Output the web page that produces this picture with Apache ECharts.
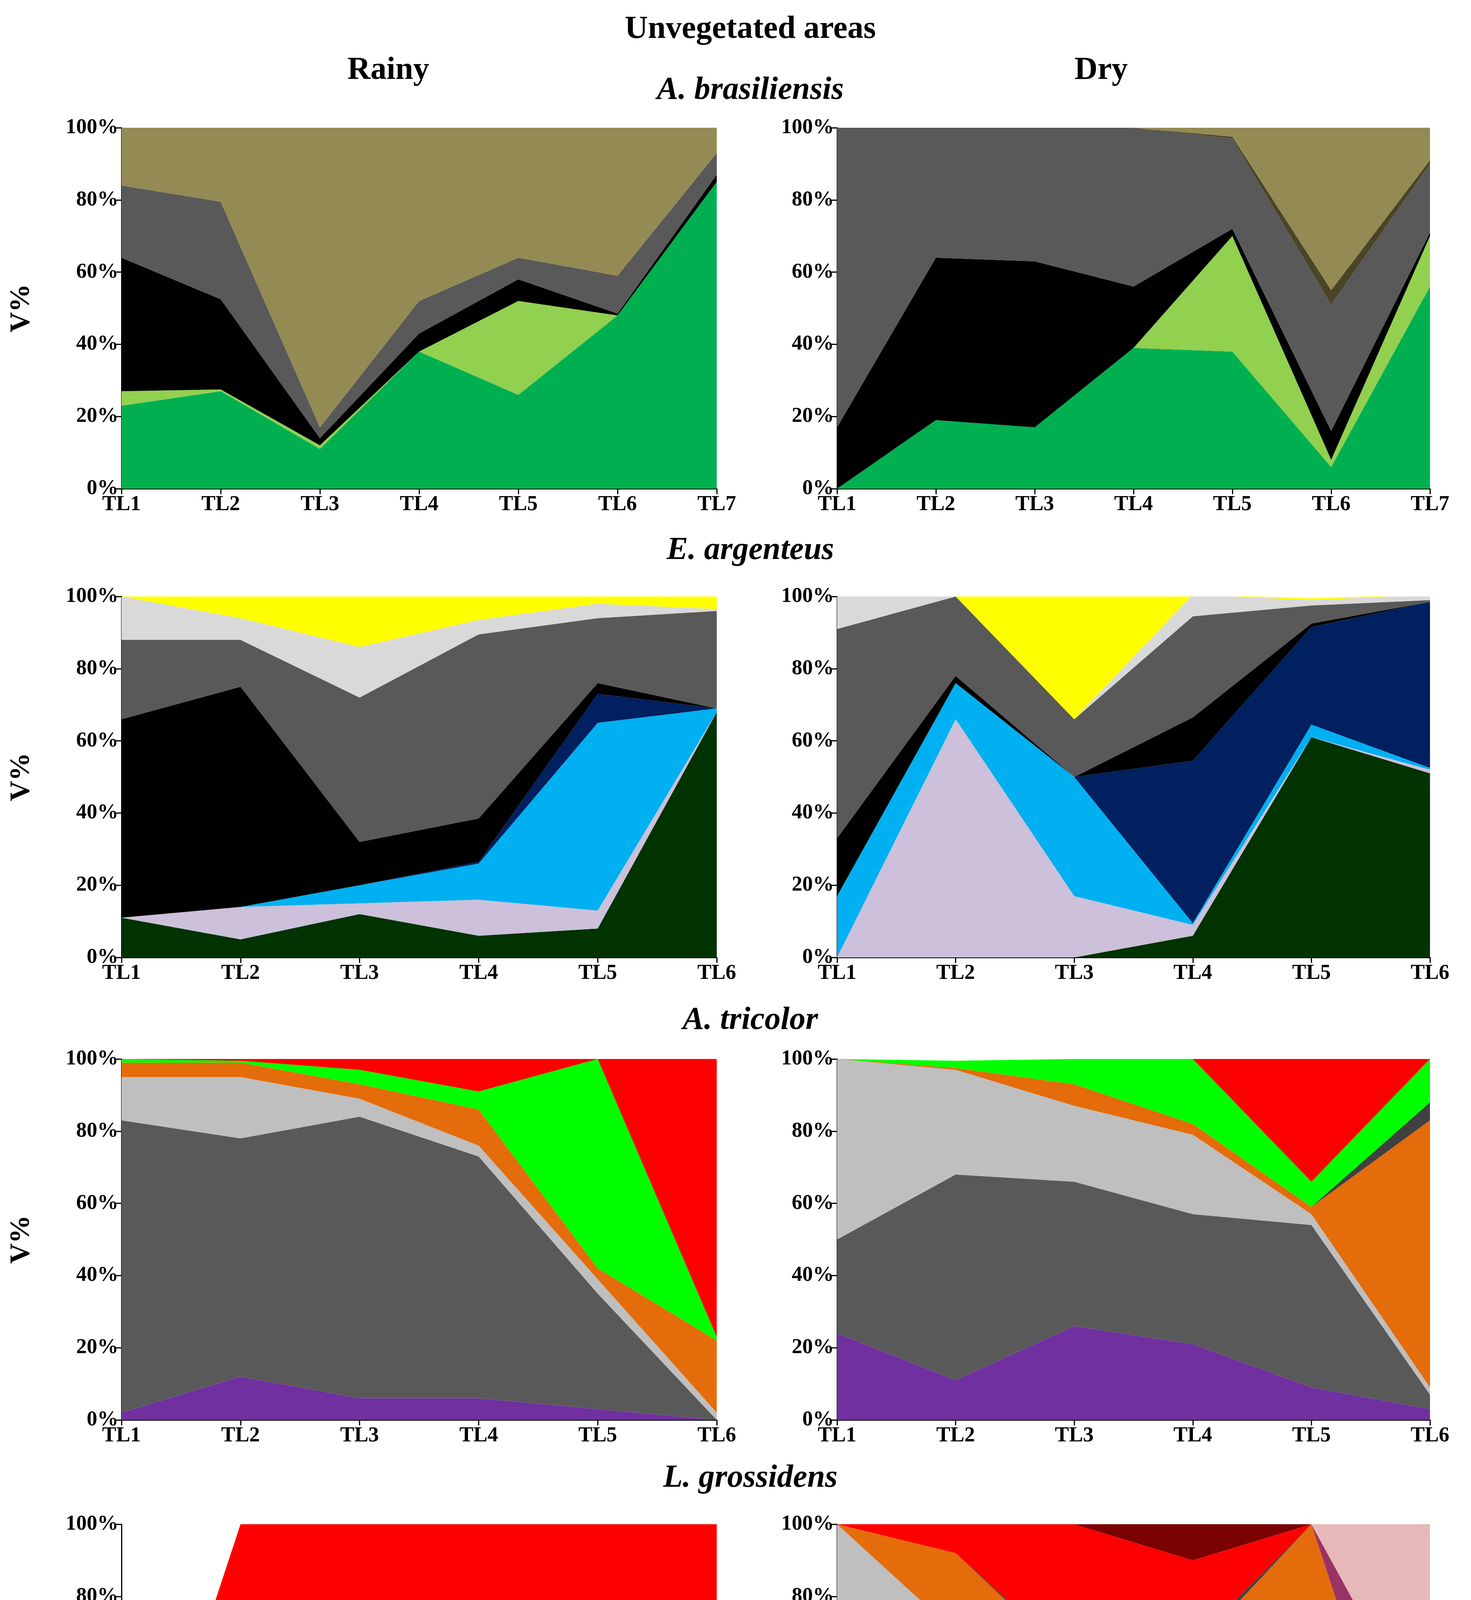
<!DOCTYPE html>
<html>
<head>
<meta charset="utf-8">
<script src="https://cdn.jsdelivr.net/npm/echarts@6/dist/echarts.min.js"></script>
<style>html,body{margin:0;padding:0;background:#fff}#c{width:3766px;height:4950px}</style>
</head>
<body>
<div id="c"></div>
<script>
// layer thickness (%) per tick, bottom to top
const tl7 = ['TL1','TL2','TL3','TL4','TL5','TL6','TL7']
const tl6 = ['TL1','TL2','TL3','TL4','TL5','TL6']
const yTicks = [0, 20, 40, 60, 80, 100]

const C = {
  green: '#00B050', lgreen: '#92D050', black: '#000000', dgray: '#595959', khaki: '#948A54',
  olive: '#4A4526', lgray: '#D9D9D9', sgray: '#BFBFBF', yellow: '#FFFF00', navy: '#002060',
  blue: '#00B0F0', lav: '#CCC0DA', dkgreen: '#003300', red: '#FF0000', bgreen: '#00FF00',
  orange: '#E46C0A', purple: '#7030A0', maroon: '#7B0000', pink: '#E6B9B8', plum: '#993366', ddgray: '#404040'
}

// A. brasiliensis rainy
const abR = [
  ['green', [23, 27, 11, 38, 26, 48, 85]],
  ['lgreen', [4, 0.5, 1, 0, 26, 0, 0]],
  ['black', [37, 25, 2, 5, 6, 0.5, 2]],
  ['dgray', [20, 27, 3, 9, 6, 10.5, 6]],
  ['khaki', [16, 20.5, 83, 48, 36, 41, 7]]
]
// A. brasiliensis dry
const abD = [
  ['green', [0, 19, 17, 39, 38, 6, 56]],
  ['lgreen', [0, 0, 0, 0, 32, 2, 14]],
  ['black', [17, 45, 46, 17, 2, 8, 1]],
  ['dgray', [83, 36, 37, 44, 25, 35, 19]],
  ['olive', [0, 0, 0, 0, 0.5, 4, 1]],
  ['khaki', [0, 0, 0, 0, 2.5, 45, 9]]
]
// E. argenteus rainy
const eaR = [
  ['dkgreen', [11, 5, 12, 6, 8, 68]],
  ['lav', [0, 9, 3, 10, 5, 0]],
  ['blue', [0, 0, 5, 10, 52, 1]],
  ['navy', [0, 0, 0, 0.5, 8, 0]],
  ['black', [55, 61, 12, 12, 3, 0]],
  ['dgray', [22, 13, 40, 51, 18, 27]],
  ['lgray', [12, 6, 14, 4, 4, 0.5]],
  ['yellow', [0, 6, 14, 7, 2, 3.5]]
]
// E. argenteus dry
const eaD = [
  ['dkgreen', [0, 0, 0, 6, 61, 51]],
  ['lav', [0, 66, 17, 3, 0, 1]],
  ['blue', [17, 10, 33, 0.5, 3.5, 0.5]],
  ['navy', [0, 0, 0, 45, 27, 46]],
  ['black', [16, 2, 0, 12, 1, 0]],
  ['dgray', [58, 22, 16, 28, 5, 0.5]],
  ['lgray', [9, 0, 0, 6, 1.5, 1.5]],
  ['yellow', [0, 0, 34, 0, 0.5, 0]]
]
// A. tricolor rainy
const atR = [
  ['purple', [2, 12, 6, 6, 3, 0]],
  ['dgray', [81, 66, 78, 67, 32, 0]],
  ['sgray', [12, 17, 5, 3, 4, 2]],
  ['orange', [4, 4, 4, 10, 3, 20]],
  ['bgreen', [1, 0.5, 4, 5, 58, 1]],
  ['red', [0, 0.5, 3, 9, 0, 77]]
]
// A. tricolor dry
const atD = [
  ['purple', [24, 11, 26, 21, 9, 3]],
  ['dgray', [26, 57, 40, 36, 45, 4]],
  ['sgray', [50, 29, 21, 22, 3, 2]],
  ['orange', [0, 0.5, 6, 3, 2, 74]],
  ['ddgray', [0, 0, 0, 0, 0, 5]],
  ['bgreen', [0, 2, 7, 18, 7, 12]],
  ['red', [0, 0, 0, 0, 34, 0]]
]
// L. grossidens rainy
const lgR = [
  ['dkgreen', [0, 0, 1, 6, 0, 0]],
  ['purple', [0, 6, 8, 13, 1, 2]],
  ['dgray', [0, 6, 3, 0.5, 0, 0]],
  ['red', [0, 88, 88, 80.5, 99, 98]]
]
// L. grossidens dry
const lgD = [
  ['dkgreen', [42, 5, 1, 2, 7, 0]],
  ['purple', [2, 12, 7, 6, 46, 0]],
  ['dgray', [28, 25, 8, 6, 23, 0]],
  ['sgray', [28, 28, 1, 1, 0, 0]],
  ['orange', [0, 22, 44, 50, 24, 0]],
  ['ddgray', [0, 0, 1, 2, 0, 0]],
  ['red', [0, 8, 38, 23, 0, 0]],
  ['maroon', [0, 0, 0, 10, 0, 0]],
  ['plum', [0, 0, 0, 0, 0, 40]],
  ['pink', [0, 0, 0, 0, 0, 60]]
]

const panels = [
  [abR, tl7], [abD, tl7], [eaR, tl6], [eaD, tl6],
  [atR, tl6], [atD, tl6], [lgR, tl6], [lgD, tl6]
]
const colX = [311, 2143], colW = [1524, 1518]
const rowY = [327, 1527, 2711, 3902], rowH = 924
const font = 'Liberation Serif'

const grid = [], xAxis = [], yAxis = [], series = []
panels.forEach(([layers, cats], i) => {
  const c = i % 2, r = Math.floor(i / 2)
  grid.push({ left: colX[c], top: rowY[r], width: colW[c], height: rowH })
  xAxis.push({
    gridIndex: i, type: 'category', data: cats, boundaryGap: false,
    axisLine: { lineStyle: { color: '#000', width: 3 } },
    axisTick: { length: 14, lineStyle: { color: '#000', width: 3 } },
    axisLabel: { color: '#000', fontFamily: font, fontWeight: 'bold', fontSize: 54, margin: 14 }
  })
  yAxis.push({
    gridIndex: i, type: 'value', min: 0, max: 100, interval: 20,
    name: c === 0 ? 'V%' : '', nameLocation: 'middle', nameGap: 220, nameRotate: 90,
    nameTextStyle: { color: '#000', fontFamily: font, fontWeight: 'bold', fontSize: 72 },
    axisLine: { show: true, lineStyle: { color: '#000', width: 3 } },
    axisTick: { show: true, length: 14, lineStyle: { color: '#000', width: 3 } },
    splitLine: { show: false },
    axisLabel: { color: '#000', fontFamily: font, fontWeight: 'bold', fontSize: 54, formatter: v => yTicks.includes(v) ? v + '%' : '' }
  })
  layers.forEach(([key, vals]) => {
    series.push({
      type: 'line', xAxisIndex: i, yAxisIndex: i, stack: 'p' + i, data: vals,
      symbol: 'none', lineStyle: { width: 0 }, areaStyle: { color: C[key], opacity: 1 },
      itemStyle: { color: C[key] }, silent: true, animation: false
    })
  })
})

const titles = [
  ['Unvegetated areas', 1921, 76, 'bold'],
  ['Rainy', 994, 181, 'bold'],
  ['Dry', 2819, 181, 'bold'],
  ['A. brasiliensis', 1921, 232, 'italic'],
  ['E. argenteus', 1921, 1410, 'italic'],
  ['A. tricolor', 1921, 2613, 'italic'],
  ['L. grossidens', 1921, 3785, 'italic']
]
const graphic = titles.map(([t, x, y, s]) => ({
  type: 'text', x, y,
  style: { text: t, fill: '#000', font: (s === 'italic' ? 'italic bold ' : 'bold ') + '82px "' + font + '"', textAlign: 'center', textVerticalAlign: 'middle' }
}))

const chart = echarts.init(document.getElementById('c'))
chart.setOption({ animation: false, grid, xAxis, yAxis, series, graphic })
</script>
</body>
</html>
